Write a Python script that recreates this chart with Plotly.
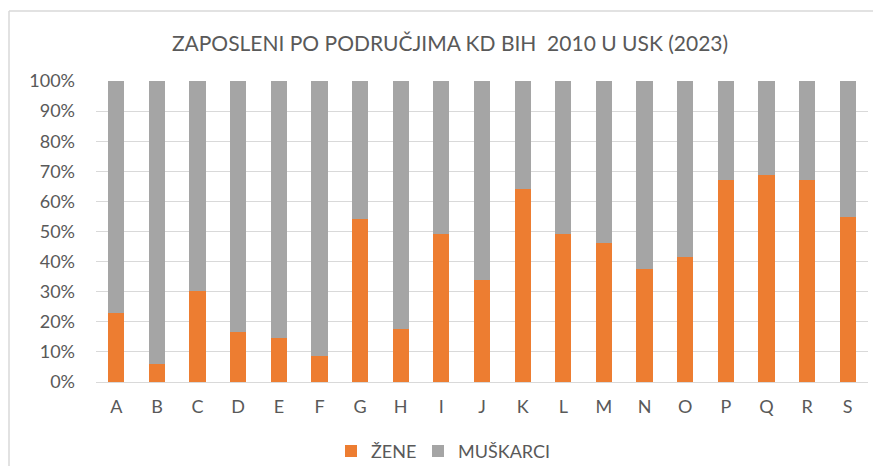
import plotly.graph_objects as go

categories = ["A", "B", "C", "D", "E", "F", "G", "H", "I", "J",
              "K", "L", "M", "N", "O", "P", "Q", "R", "S"]
zene_pct = [22.8, 5.9, 30.1, 16.6, 14.5, 8.6, 54.2, 17.5, 49.1, 33.8,
            64.0, 49.1, 46.2, 37.4, 41.4, 67.1, 68.8, 67.1, 54.8]
muskarci_pct = [100 - v for v in zene_pct]
y_ticks = [0, 10, 20, 30, 40, 50, 60, 70, 80, 90, 100]
y_tick_labels = [f"{v}%" for v in y_ticks]

ORANGE = "#ED7D31"
GRAY = "#A5A5A5"
TXT = "#595959"
FONT = "Lato, 'Open Sans', sans-serif"

W, H = 865, 458          # page adds an 8px body margin on each side
PL, PR, PT, PB = 88, 860, 73, 373.7
PH = PB - PT
PW = PR - PL

fig = go.Figure()
fig.add_trace(go.Bar(name="ŽENE", x=categories, y=zene_pct, marker_color=ORANGE,
                     marker_line_width=0, legend="legend"))
fig.add_trace(go.Bar(name="MUŠKARCI", x=categories, y=muskarci_pct, marker_color=GRAY,
                     marker_line_width=0, legend="legend2"))

leg_common = dict(orientation="h", xanchor="left",
                  y=-(443 - PB) / PH, yanchor="middle",
                  font=dict(family=FONT, size=18, color=TXT),
                  itemwidth=30, bgcolor="rgba(0,0,0,0)")

fig.update_layout(
    barmode="stack",
    bargap=0.6,
    width=W, height=H,
    margin=dict(l=PL, r=W - PR, t=PT, b=H - PB, autoexpand=False),
    paper_bgcolor="white",
    plot_bgcolor="white",
    font=dict(family=FONT, color=TXT, size=18),
    title=dict(text="ZAPOSLENI PO PODRUČJIMA KD BIH  2010 U USK (2023)",
               x=(450 - 8) / W, xref="container", xanchor="center",
               y=1 - (44 - 8) / H, yref="container", yanchor="middle",
               font=dict(family=FONT, size=21, color=TXT)),
    legend=dict(x=(323 - PL) / PW, **leg_common),
    legend2=dict(x=(323 + 87 - PL) / PW, **leg_common),
    showlegend=True,
    shapes=[
        dict(type="line", xref="paper", yref="paper",
             x0=(1 - PL) / PW, x1=(1 - PL) / PW,
             y0=-(H + 20 - PB) / PH, y1=(PB - 3) / PH,
             line=dict(color="#D9D9D9", width=1.5), layer="below"),
        dict(type="line", xref="paper", yref="paper",
             x0=(1 - PL) / PW, x1=(W + 20 - PL) / PW,
             y0=(PB - 3) / PH, y1=(PB - 3) / PH,
             line=dict(color="#D9D9D9", width=1.5), layer="below"),
    ],
)
fig.update_xaxes(showgrid=False, showline=True, linecolor="#D9D9D9", linewidth=1,
                 tickfont=dict(family=FONT, size=18, color=TXT),
                 ticks="", ticklabelstandoff=8)
fig.update_yaxes(range=[0, 100], tickvals=y_ticks, ticktext=y_tick_labels,
                 showgrid=True, gridcolor="#D9D9D9", gridwidth=1, zeroline=False,
                 showline=False, ticks="",
                 tickfont=dict(family=FONT, size=18, color=TXT),
                 ticklabelstandoff=20)

fig.write_html("out.html")
